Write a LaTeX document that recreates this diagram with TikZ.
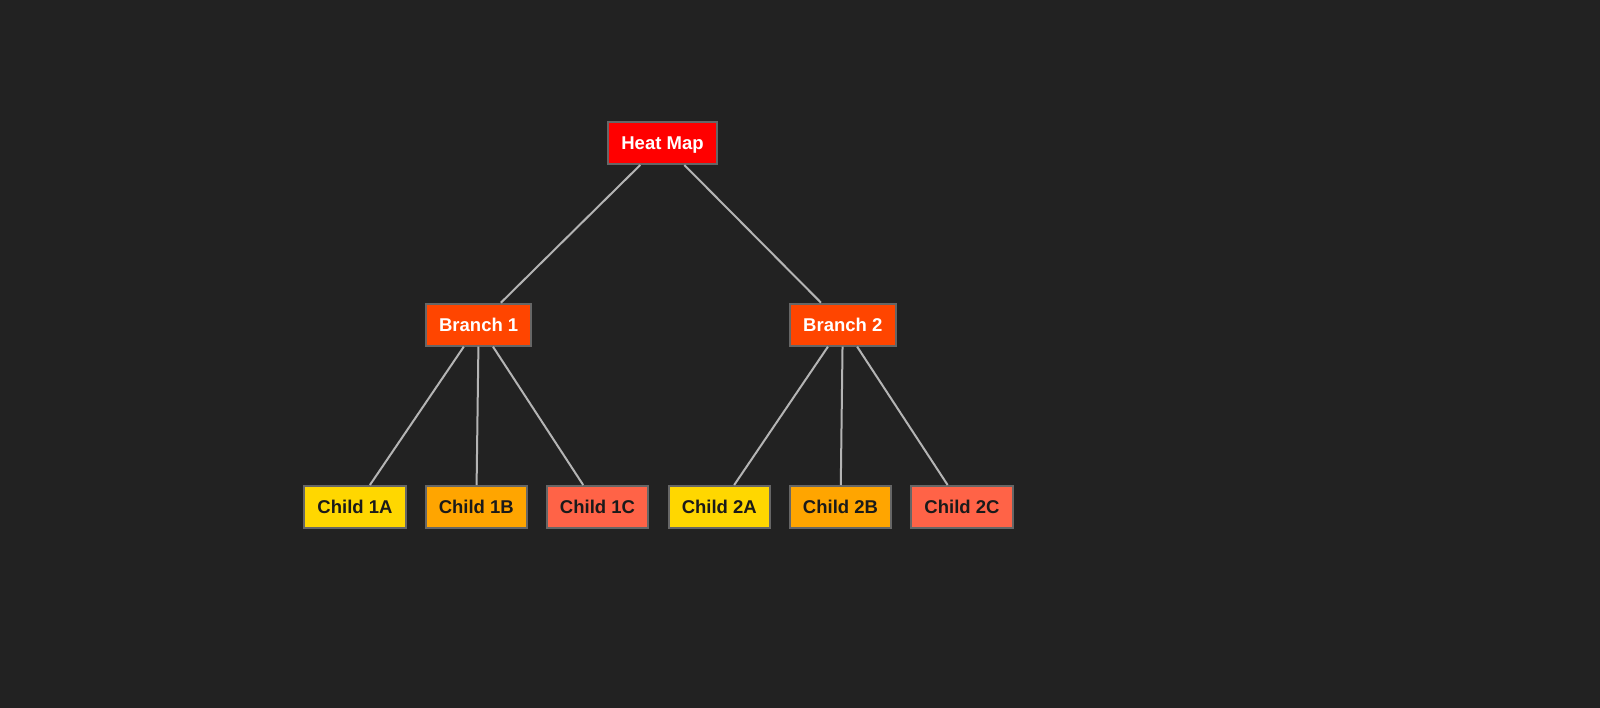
\documentclass[tikz,border=0pt]{standalone}
\usepackage{fontspec}
\setmainfont{Liberation Sans}
\definecolor{bg}{HTML}{222222}
\definecolor{edgec}{HTML}{B4B4B4}
\definecolor{borderc}{HTML}{666666}
\definecolor{rootc}{HTML}{FF0000}
\definecolor{branchc}{HTML}{FF4500}
\definecolor{ca}{HTML}{FFD700}
\definecolor{cb}{HTML}{FFA500}
\definecolor{cc}{HTML}{FF6347}
\definecolor{darktxt}{HTML}{1A1A1A}
\begin{document}
\begin{tikzpicture}[x=1pt,y=-1pt,
  box/.style={draw=borderc, line width=2pt, rectangle, inner xsep=13.2pt, inner ysep=0pt,
    text height=13pt, text depth=0pt,
    minimum height=42pt, font=\fontsize{18.5}{20}\selectfont\bfseries},
  rootbox/.style={box, fill=rootc, text=white},
  branchbox/.style={box, fill=branchc, text=white},
  childa/.style={box, fill=ca, text=darktxt},
  childb/.style={box, fill=cb, text=darktxt},
  childc/.style={box, fill=cc, text=darktxt},
  link/.style={draw=edgec, line width=2pt}]
\fill[bg] (0,0) rectangle (1600,708);
\useasboundingbox (0,0) rectangle (1600,708);
\node[rootbox] (root) at (662.5,143) {Heat Map};
\node[branchbox] (b1) at (478.7,324.7) {Branch 1};
\node[branchbox] (b2) at (842.8,324.7) {Branch 2};
\node[childa] (c1a) at (355,507) {Child 1A};
\node[childb] (c1b) at (476.3,507) {Child 1B};
\node[childc] (c1c) at (597.5,507) {Child 1C};
\node[childa] (c2a) at (719.3,507) {Child 2A};
\node[childb] (c2b) at (840.5,507) {Child 2B};
\node[childc] (c2c) at (962,507) {Child 2C};
\draw[link] (root) -- (b1);
\draw[link] (root) -- (b2);
\draw[link] (b1) -- (c1a);
\draw[link] (b1) -- (c1b);
\draw[link] (b1) -- (c1c);
\draw[link] (b2) -- (c2a);
\draw[link] (b2) -- (c2b);
\draw[link] (b2) -- (c2c);
\end{tikzpicture}
\end{document}
